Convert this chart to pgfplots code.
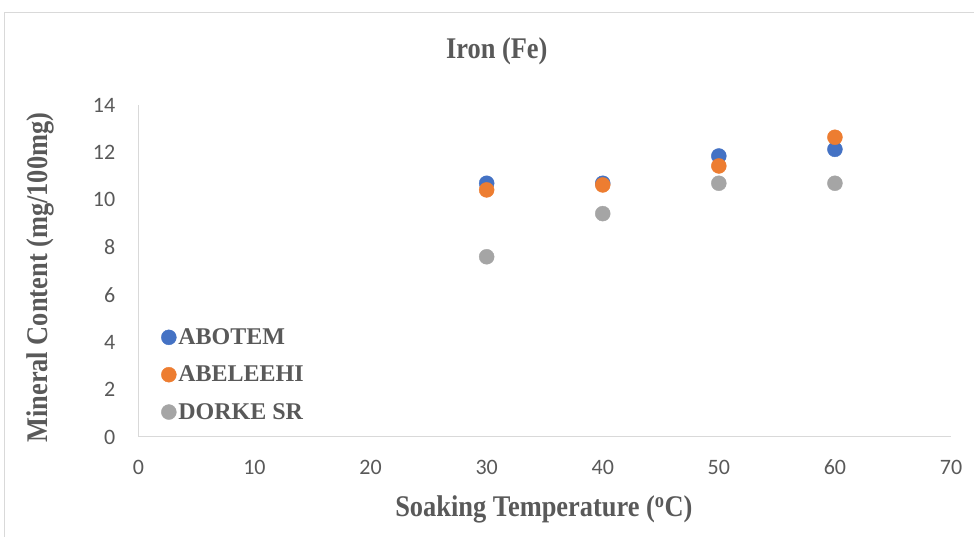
\documentclass[border=0pt]{standalone}
\usepackage{pgfplots}
\pgfplotsset{compat=1.18}
\usepackage{fontspec}
\setmainfont{Liberation Serif}
\newfontfamily\carlito{Carlito}
\newfontfamily\condensed[FakeStretch=0.88]{Liberation Serif}
\definecolor{cblue}{HTML}{4472C4}
\definecolor{corange}{HTML}{ED7D31}
\definecolor{cgray}{HTML}{A5A5A5}
\definecolor{ctext}{HTML}{595959}
\definecolor{cline}{HTML}{D9D9D9}
\begin{document}
\begin{tikzpicture}
\useasboundingbox (0,0) rectangle (974bp,537bp);
\draw[cline, line width=1bp] (4.5bp,0bp) -- (4.5bp,524.5bp) -- (974bp,524.5bp);
\begin{axis}[
  at={(138.4bp,100bp)}, anchor=south west,
  scale only axis,
  width=812.6bp, height=332bp,
  xmin=0, xmax=70, ymin=0, ymax=14,
  xtick={0,10,...,70}, ytick={0,2,...,14},
  axis x line*=bottom, axis y line*=left,
  axis line style={draw=cline, line width=1bp},
  major tick length=0pt,
  /pgf/number format/assume math mode=true,
  tick label style={font=\carlito\fontsize{22bp}{26bp}\selectfont, text=ctext},
  xticklabel style={anchor=center, yshift=-30bp},
  yticklabel style={anchor=east, inner sep=0pt, xshift=-23bp},
  title={\condensed\bfseries Iron (Fe)},
  title style={at={(axis description cs:0.441,1)}, anchor=center, yshift=48bp,
    font=\fontsize{30bp}{36bp}\selectfont, text=ctext},
  xlabel={\condensed\bfseries Soaking Temperature (\textsuperscript{o}C)},
  xlabel style={at={(axis description cs:0.499,0)}, anchor=center, yshift=-72bp,
    font=\fontsize{30bp}{36bp}\selectfont, text=ctext},
  ylabel={\condensed\bfseries Mineral Content (mg/100mg)},
  ylabel style={at={(axis description cs:0,0.48)}, anchor=center, yshift=98bp,
    font=\fontsize{30bp}{36bp}\selectfont, text=ctext},
  legend image code/.code={\draw[#1] plot coordinates {(0bp,0bp)};},
  legend style={at={(axis description cs:0.028,0.33)}, anchor=north west,
    draw=none, fill=none, inner sep=0pt, row sep=18bp,
    font=\bfseries\fontsize{24bp}{26bp}\selectfont, text=ctext,
    nodes={inner xsep=2bp, inner ysep=1bp}},
  legend cell align=left,
]
\addplot[only marks, mark=*, mark size=7.5bp, color=cblue, mark options={draw=cblue, fill=cblue}]
  coordinates {(30,10.70) (40,10.70) (50,11.85) (60,12.13)};
\addlegendentry{ABOTEM}
\addplot[only marks, mark=*, mark size=7.5bp, color=corange, mark options={draw=corange, fill=corange}]
  coordinates {(30,10.42) (40,10.63) (50,11.43) (60,12.64)};
\addlegendentry{ABELEEHI}
\addplot[only marks, mark=*, mark size=7.5bp, color=cgray, mark options={draw=cgray, fill=cgray}]
  coordinates {(30,7.60) (40,9.42) (50,10.70) (60,10.70)};
\addlegendentry{DORKE SR}
\end{axis}
\end{tikzpicture}
\end{document}
